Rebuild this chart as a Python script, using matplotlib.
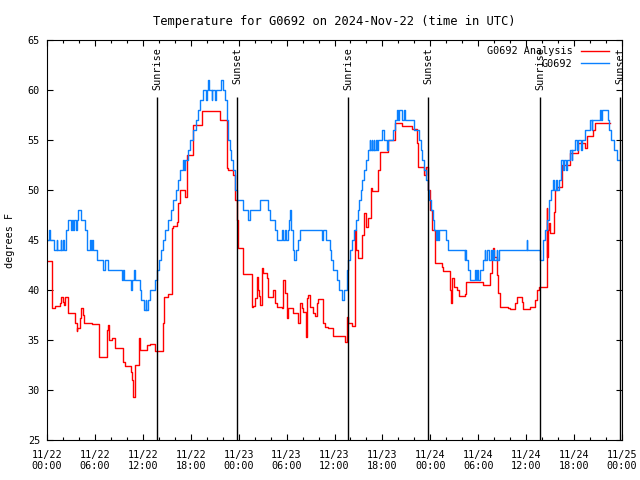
import matplotlib
matplotlib.use("Agg")
import matplotlib.pyplot as plt

# hours since 2024-11-22 00:00 UTC, step changes
obs_hours = [0.0, 0.25, 0.35, 0.9, 1.2, 1.3, 1.7, 1.8, 2.0, 2.1, 2.35, 2.6, 3.0, 3.1, 3.3, 3.4, 3.6, 3.7,
             3.9, 4.3, 4.7, 4.97, 5.4, 5.5, 5.6, 5.7, 6.2, 7.05, 7.2, 7.7, 9.35, 9.55, 9.65, 10.5, 10.65,
             10.85, 11.0, 11.6, 11.8, 12.15, 12.35, 12.45, 12.6, 12.9, 13.5, 13.8, 14.0, 14.3, 14.5, 14.8,
             15.2, 15.5, 15.8, 16.1, 16.4, 16.7, 17.0, 17.2, 17.3, 17.6, 17.9, 18.3, 18.6, 18.9, 19.2,
             19.5, 19.9, 20.0, 20.2, 20.3, 20.6, 20.7, 21.0, 21.1, 21.8, 22.0, 22.3, 22.5, 22.7, 22.9,
             23.1, 23.3, 23.5, 23.6, 23.75, 24.6, 25.2, 25.4, 26.7, 27.7, 27.9, 28.55, 28.75, 29.4, 29.5,
             29.8, 29.9, 30.2, 30.35, 30.45, 30.55, 30.75, 30.9, 31.2, 31.4, 31.7, 34.4, 34.6, 34.9, 35.4,
             35.6, 35.85, 36.3, 36.6, 37.0, 37.2, 37.6, 37.75, 37.95, 38.2, 38.5, 38.7, 38.9, 39.1, 39.3,
             39.5, 39.75, 40.0, 40.2, 40.4, 40.5, 40.65, 40.75, 40.9, 41.0, 41.15, 41.3, 41.5, 42.0, 42.15,
             42.6, 42.75, 43.35, 43.55, 43.8, 44.0, 44.1, 44.5, 44.7, 44.85, 45.9, 46.55, 46.8, 47.0, 47.2,
             47.45, 47.65, 47.85, 48.05, 48.3, 48.5, 48.7, 48.8, 48.9, 49.1, 49.95, 50.15, 52.3, 52.4, 52.5,
             52.75, 53.0, 53.6, 53.7, 53.9, 54.0, 54.2, 54.6, 54.8, 54.9, 55.1, 55.3, 55.6, 55.7, 55.9, 56.0,
             56.3, 56.4, 56.6, 60.05, 60.15, 61.75, 62.05, 62.35, 62.6, 62.9, 63.1, 63.3, 63.5, 63.7, 63.9,
             64.1, 64.3, 64.6, 64.7, 65.0, 65.1, 65.5, 65.7, 65.8, 66.1, 66.4, 66.5, 66.9, 67.0, 67.4, 68.0,
             68.2, 68.3, 69.2, 69.4, 69.5, 70.2, 70.4, 70.6, 71.0, 71.4, 71.75]
obs_temps = [45, 46, 45, 44, 45, 44, 45, 44, 45, 44, 46, 47, 46, 47, 46, 47, 46, 47,
             48, 47, 46, 44, 45, 44, 45, 44, 43, 42, 43, 42, 41, 42, 41, 40, 41,
             42, 41, 40, 39, 38, 39, 38, 39, 40, 41, 42, 43, 44, 45, 46,
             47, 48, 49, 50, 51, 52, 53, 52, 53, 54, 55, 56, 57, 58, 59,
             60, 59, 60, 61, 60, 59, 60, 59, 60, 61, 60, 59, 57, 55, 54,
             53, 52, 51, 50, 49, 48, 47, 48, 49, 48, 47, 46, 45, 46, 45,
             46, 45, 46, 47, 48, 46, 44, 43, 44, 45, 46, 45, 46, 45, 44,
             43, 42, 41, 40, 39, 40, 42, 43, 44, 45, 46, 47, 48, 49, 50,
             51, 52, 53, 54, 55, 54, 55, 54, 55, 54, 55, 54, 55, 56, 55,
             54, 55, 56, 57, 58, 57, 58, 57, 58, 57, 56, 55, 54, 53, 52,
             51, 50, 49, 48, 47, 46, 45, 46, 45, 46, 45, 44, 43, 44, 43,
             42, 41, 42, 41, 42, 41, 42, 43, 44, 43, 44, 43, 44, 43, 44, 43,
             44, 43, 44, 45, 44, 43, 45, 46, 47, 49, 50, 51, 50, 51, 50,
             51, 53, 52, 53, 52, 53, 54, 53, 54, 55, 54, 55, 54, 55, 56, 57,
             56, 57, 58, 57, 58, 57, 56, 55, 54, 53, 53]

ana_hours = [0.0, 0.58, 0.67, 1.0, 1.63, 1.8, 1.95, 2.1, 2.25, 2.59, 3.5, 3.71, 3.8, 4.13, 4.3, 4.5, 4.67,
             5.59, 6.55, 7.55, 7.65, 7.76, 8.1, 8.51, 9.56, 9.77, 10.55, 10.65, 10.75, 11.0, 11.56, 11.65,
             12.48, 12.9, 13.52, 14.57, 14.7, 15.19, 15.61, 15.69, 15.82, 16.24, 16.45, 16.65, 17.3, 17.5,
             18.3, 19.37, 21.7, 22.5, 22.7, 23.3, 23.5, 23.75, 23.95, 24.6, 25.63, 25.84, 26.05, 26.25,
             26.38, 26.5, 26.67, 26.88, 27.09, 27.5, 27.71, 28.34, 28.55, 28.76, 29.38, 29.59, 29.8, 30.0,
             30.21, 30.84, 31.47, 31.68, 31.89, 32.1, 32.43, 32.52, 32.73, 32.94, 33.35, 33.56, 33.77,
             33.98, 34.61, 34.82, 35.24, 35.78, 35.87, 37.32, 37.52, 37.73, 38.15, 38.57, 38.65, 38.98,
             39.49, 39.74, 39.94, 40.15, 40.57, 40.65, 41.49, 41.7, 42.74, 43.57, 44.41, 45.66, 46.29,
             46.5, 47.25, 47.42, 47.76, 47.97, 48.17, 48.59, 49.4, 49.63, 50.46, 50.6, 50.75, 50.95, 51.3,
             51.6, 52.35, 52.5, 54.6, 55.47, 55.68, 55.89, 55.97, 56.3, 56.52, 56.73, 57.78, 57.98, 58.6,
             58.81, 59.44, 59.65, 60.48, 61.11, 61.32, 61.65, 62.57, 62.65, 62.78, 62.86, 62.99, 63.49,
             63.61, 63.82, 64.45, 65.5, 66.5, 67.37, 67.58, 68.42, 68.62, 70.5]
ana_temps = [42.9, 40.6, 38.2, 38.4, 38.7, 39.3, 38.8, 38.5, 39.3, 37.7, 36.7, 35.9, 36.2, 37.2, 38.2, 37.5, 36.7,
             36.6, 33.3, 36.0, 36.5, 35.0, 35.2, 34.2, 32.8, 32.4, 31.8, 31.0, 29.3, 32.5, 35.2, 34.0,
             34.5, 34.6, 33.9, 36.7, 39.3, 39.6, 41.2, 46.2, 46.4, 46.8, 48.7, 50.0, 49.3, 53.5,
             56.5, 57.9, 57.0, 52.2, 52.0, 51.5, 49.0, 47.0, 44.2, 41.6, 38.3, 38.4, 39.2, 41.3,
             40.0, 39.4, 38.5, 42.2, 41.7, 41.2, 39.3, 40.0, 38.7, 38.3, 38.2, 41.0, 39.7, 37.2,
             38.2, 37.7, 36.7, 38.7, 38.2, 37.8, 35.3, 39.2, 39.5, 38.3, 37.7, 37.4, 38.7,
             39.1, 36.7, 36.3, 36.2, 35.9, 35.4, 34.8, 37.3, 36.7, 36.4, 46.0, 44.0, 43.2,
             45.5, 47.7, 46.3, 47.2, 50.2, 49.9, 52.0, 53.8, 55.0, 56.7, 56.4, 56.1, 54.7,
             52.3, 51.5, 52.3, 50.0, 48.0, 46.0, 42.7, 42.3, 41.9, 40.0, 38.7, 41.2, 40.3, 40.0,
             39.4, 39.6, 40.8, 40.5, 41.7, 43.7, 44.2, 43.3, 41.5, 39.7, 38.3, 38.2, 38.1, 38.7,
             39.3, 38.8, 38.1, 38.3, 39.0, 40.0, 40.3, 48.2, 43.3, 46.0, 46.7, 45.7, 47.8,
             50.0, 50.3, 52.5, 53.7, 54.7, 54.2, 55.4, 56.0, 56.7, 56.7]

sunrise_hours = [13.77, 37.69, 61.73]
sunset_hours = [23.79, 47.71, 71.75]

tick_hours = list(range(0, 73, 6))
tick_labels = ["11/22\n00:00", "11/22\n06:00", "11/22\n12:00", "11/22\n18:00",
               "11/23\n00:00", "11/23\n06:00", "11/23\n12:00", "11/23\n18:00",
               "11/24\n00:00", "11/24\n06:00", "11/24\n12:00", "11/24\n18:00",
               "11/25\n00:00"]

plt.rcParams['font.family'] = 'DejaVu Sans Mono'
plt.rcParams['font.size'] = 7.3

fig = plt.figure(figsize=(6.4, 4.8), dpi=100)
ax = fig.add_axes([47 / 640, 40 / 480, 575 / 640, 400 / 480])

ax.plot(ana_hours, ana_temps, color='#ff0000', lw=1.0, drawstyle='steps-post', label='G0692 Analysis')
ax.plot(obs_hours, obs_temps, color='#0a80ff', lw=1.0, drawstyle='steps-post', label='G0692')

for h in sunrise_hours:
    ax.vlines(h, 25, 59.3, color='black', lw=1.0)
    ax.text(h, 64.3, 'Sunrise', rotation=90, ha='center', va='top')
for h in sunset_hours:
    ax.vlines(h, 25, 59.3, color='black', lw=1.0)
    ax.text(h, 64.3, 'Sunset', rotation=90, ha='center', va='top')

ax.set_xlim(0, 72)
ax.set_ylim(25, 65)
ax.set_xticks(tick_hours)
ax.set_xticklabels(tick_labels)
ax.set_xticks(range(0, 73, 2), minor=True)
ax.set_yticks(range(25, 66, 5))
ax.tick_params(which='both', direction='in', top=True, right=True)
ax.tick_params(axis='x', pad=7)
ax.tick_params(axis='y', pad=5)
ax.tick_params(which='major', length=4, width=0.8)
ax.tick_params(which='minor', length=2.5, width=0.8)

ax.set_ylabel('degrees F', labelpad=9)
ax.set_title('Temperature for G0692 on 2024-Nov-22 (time in UTC)', pad=11)
ax.legend(loc='upper right', bbox_to_anchor=(1 - 7 / 575, 1), frameon=False, markerfirst=False,
          handlelength=2.8, borderaxespad=0.2, labelspacing=0.25, handletextpad=0.8)

plt.savefig('out.png', dpi=100)
plt.close()
